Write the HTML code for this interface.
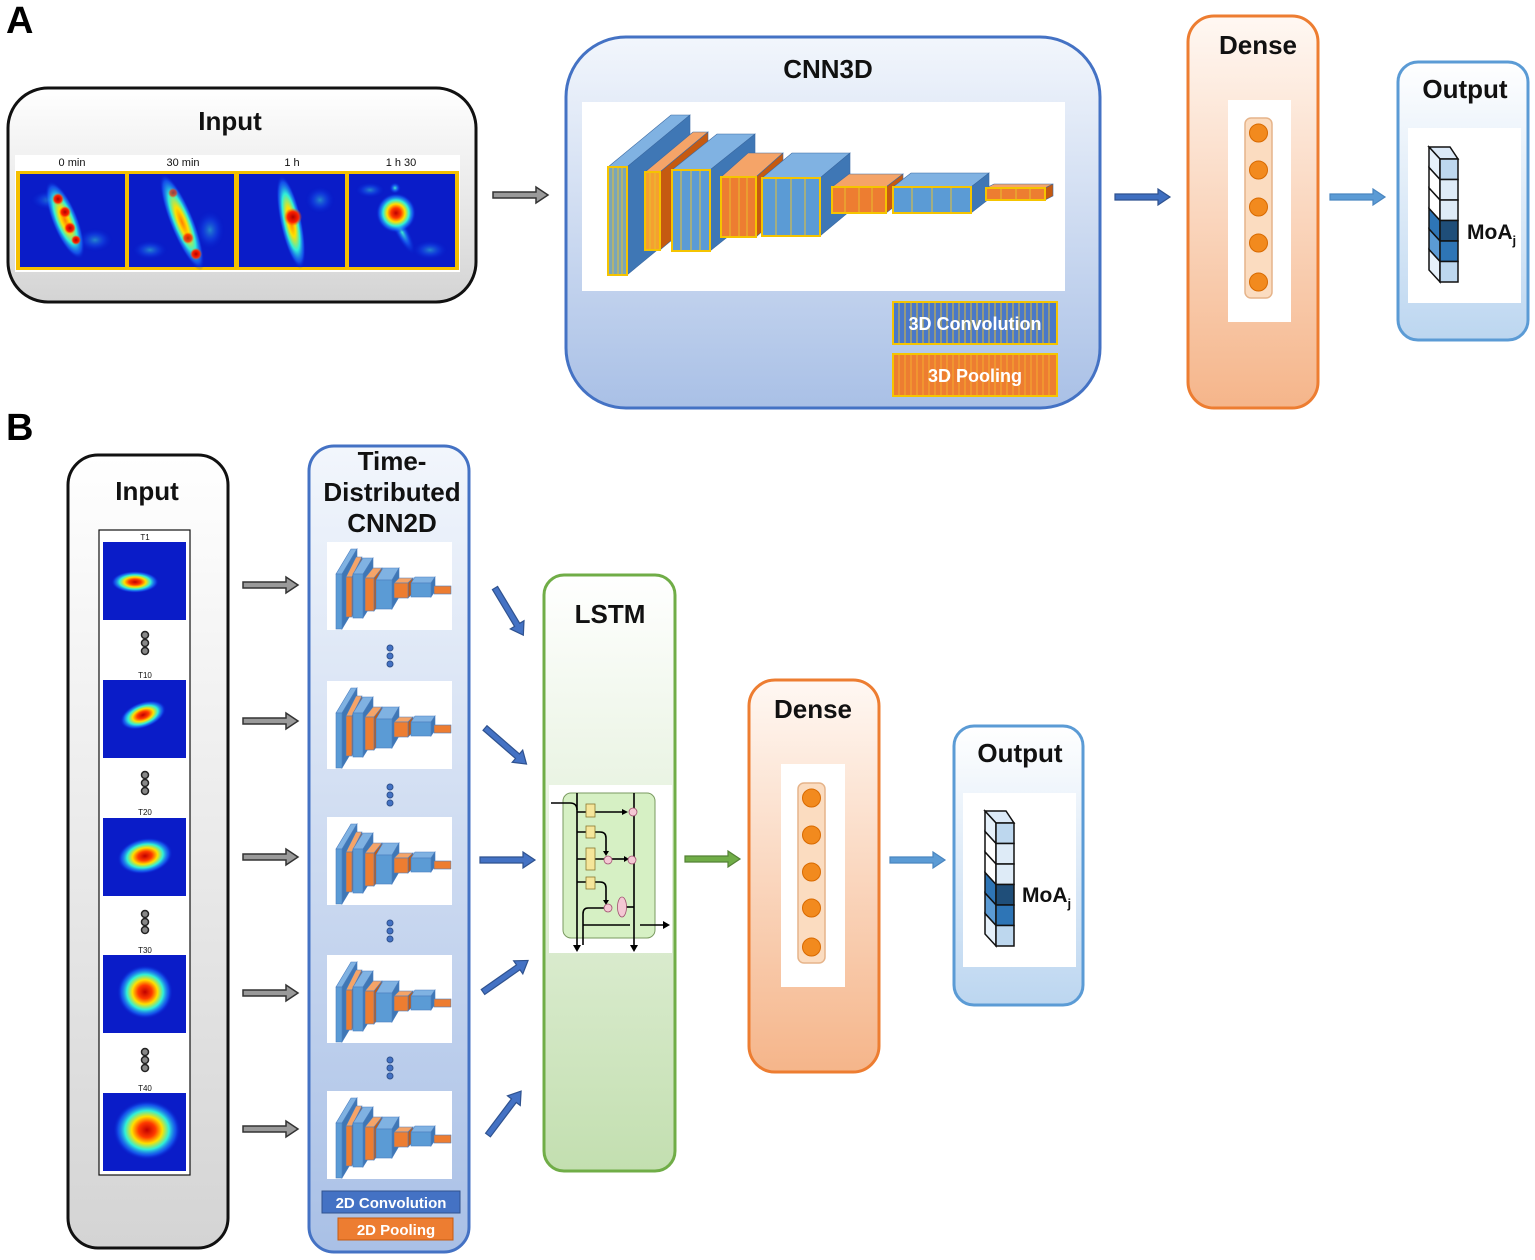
<!DOCTYPE html>
<html><head><meta charset="utf-8">
<style>
html,body{margin:0;padding:0;background:#fff;}
svg{display:block;}
text{font-family:"Liberation Sans",Arial,sans-serif;}
.t{font-weight:bold;font-size:26px;fill:#111;text-anchor:middle;}
</style></head>
<body>
<svg width="1535" height="1260" viewBox="0 0 1535 1260" xmlns="http://www.w3.org/2000/svg">
<defs>
<linearGradient id="gGray" x1="0" y1="0" x2="0" y2="1"><stop offset="0" stop-color="#ffffff"/><stop offset="1" stop-color="#d4d4d4"/></linearGradient>
<linearGradient id="gBlue" x1="0" y1="0" x2="0" y2="1"><stop offset="0" stop-color="#f2f6fc"/><stop offset="1" stop-color="#a9c0e6"/></linearGradient>
<linearGradient id="gOr" x1="0" y1="0" x2="0" y2="1"><stop offset="0" stop-color="#fff8f3"/><stop offset="1" stop-color="#f5b58a"/></linearGradient>
<linearGradient id="gLB" x1="0" y1="0" x2="0" y2="1"><stop offset="0" stop-color="#ffffff"/><stop offset="1" stop-color="#bcd6f0"/></linearGradient>
<linearGradient id="gGr" x1="0" y1="0" x2="0" y2="1"><stop offset="0" stop-color="#ffffff"/><stop offset="1" stop-color="#c3dfb0"/></linearGradient>
<radialGradient id="hm"><stop offset="0" stop-color="#c00000"/><stop offset="0.25" stop-color="#ff3a00"/><stop offset="0.45" stop-color="#ffe000"/><stop offset="0.65" stop-color="#30f0d8"/><stop offset="0.85" stop-color="#1a70ff" stop-opacity="0.6"/><stop offset="1" stop-color="#0018c8" stop-opacity="0"/></radialGradient>
<radialGradient id="hmy"><stop offset="0" stop-color="#ff8000"/><stop offset="0.3" stop-color="#ffe000"/><stop offset="0.6" stop-color="#30f0d8"/><stop offset="0.85" stop-color="#1a70ff" stop-opacity="0.6"/><stop offset="1" stop-color="#0018c8" stop-opacity="0"/></radialGradient>
<radialGradient id="hr"><stop offset="0" stop-color="#b00000"/><stop offset="0.6" stop-color="#ff2000"/><stop offset="1" stop-color="#ff6000" stop-opacity="0"/></radialGradient>
<radialGradient id="hmc"><stop offset="0" stop-color="#40f0d0"/><stop offset="0.5" stop-color="#1a70ff" stop-opacity="0.6"/><stop offset="1" stop-color="#0018c8" stop-opacity="0"/></radialGradient>
<polygon id="arr" points="0,-3 43,-3 43,-8 55,0 43,8 43,3 0,3"/>
<g id="pill">
 <rect x="0" y="0" width="27" height="180" rx="6" fill="#fbdcc0" stroke="#e6b48a" stroke-width="1.5"/>
 <g fill="#f28a1e" stroke="#d86a00" stroke-width="1">
 <circle cx="13.5" cy="15" r="9"/><circle cx="13.5" cy="52" r="9"/><circle cx="13.5" cy="89" r="9"/><circle cx="13.5" cy="125" r="9"/><circle cx="13.5" cy="164" r="9"/>
 </g>
</g>
<g id="cube" stroke="#111" stroke-width="1.5">
 <polygon points="0,0 21,0 29,12 11,12" fill="#dbe9f7"/>
 <polygon points="0,0 11,12 11,32.5 0,20.5" fill="#e6f1fb"/>
 <polygon points="0,20.5 11,32.5 11,53 0,41" fill="#fff"/>
 <polygon points="0,41 11,53 11,73.5 0,61.5" fill="#fff"/>
 <polygon points="0,61.5 11,73.5 11,94 0,82" fill="#2e75b6"/>
 <polygon points="0,82 11,94 11,114.5 0,102.5" fill="#5b9bd5"/>
 <polygon points="0,102.5 11,114.5 11,135 0,123" fill="#e6f1fb"/>
 <rect x="11" y="12" width="18" height="20.5" fill="#bdd7ee"/>
 <rect x="11" y="32.5" width="18" height="20.5" fill="#deebf7"/>
 <rect x="11" y="53" width="18" height="20.5" fill="#deebf7"/>
 <rect x="11" y="73.5" width="18" height="20.5" fill="#1f4e79"/>
 <rect x="11" y="94" width="18" height="20.5" fill="#2e75b6"/>
 <rect x="11" y="114.5" width="18" height="20.5" fill="#bdd7ee"/>
</g>
<g id="cnn2">
 <g stroke="#4a7ec0" stroke-width="0.6">
 <polygon points="9,32 24,7 30,7 15,32" fill="#80b2e2"/><polygon points="15,32 30,7 30,62 15,87" fill="#3f77b5"/><rect x="9" y="32" width="6" height="55" fill="#5b9bd5"/>
 <polygon points="19,35 29,15 35,15 25,35" fill="#f5a468"/><polygon points="25,35 35,15 35,55 25,75" fill="#c55a11"/><rect x="19" y="35" width="6" height="40" fill="#ed7d31"/>
 <polygon points="26,32 36,16 46,16 36,32" fill="#80b2e2"/><polygon points="36,32 46,16 46,60 36,76" fill="#3f77b5"/><rect x="26" y="32" width="10" height="44" fill="#5b9bd5"/>
 <polygon points="38,36 46,26 55,26 47,36" fill="#f5a468"/><polygon points="47,36 55,26 55,59 47,69" fill="#c55a11"/><rect x="38" y="36" width="9" height="33" fill="#ed7d31"/>
 <polygon points="49,38 56,26 72,26 65,38" fill="#80b2e2"/><polygon points="65,38 72,26 72,55 65,67" fill="#3f77b5"/><rect x="49" y="38" width="16" height="29" fill="#5b9bd5"/>
 <polygon points="67,41 72,36 86,36 81,41" fill="#f5a468"/><polygon points="81,41 86,36 86,51 81,56" fill="#c55a11"/><rect x="67" y="41" width="14" height="15" fill="#ed7d31"/>
 <polygon points="84,41 88,35 108,35 104,41" fill="#80b2e2"/><polygon points="104,41 108,35 108,49 104,55" fill="#3f77b5"/><rect x="84" y="41" width="20" height="14" fill="#5b9bd5"/>
 <rect x="107" y="44" width="17" height="8" fill="#ed7d31"/>
 </g>
</g>
</defs>

<text x="6" y="33" font-size="38" font-weight="bold" fill="#000">A</text>
<text x="6" y="440" font-size="38" font-weight="bold" fill="#000">B</text>

<!-- ===== A ===== -->
<rect x="8" y="88" width="468" height="214" rx="40" fill="url(#gGray)" stroke="#111" stroke-width="3"/>
<text class="t" x="230" y="130">Input</text>
<rect x="15" y="155" width="445" height="117" fill="#fff"/>
<g font-size="11" text-anchor="middle" fill="#111">
<text x="72" y="166">0 min</text><text x="183" y="166">30 min</text><text x="292" y="166">1 h</text><text x="401" y="166">1 h 30</text></g>
<rect x="16" y="171" width="443" height="99" fill="#f5c000"/>
<g>
 <rect x="20" y="174" width="105" height="93" fill="#0a1cc8"/>
 <rect x="129" y="174" width="105" height="93" fill="#0a1cc8"/>
 <rect x="239" y="174" width="106" height="93" fill="#0a1cc8"/>
 <rect x="349" y="174" width="106" height="93" fill="#0a1cc8"/>
 <g fill="url(#hmc)" opacity="0.5">
  <ellipse cx="50" cy="200" rx="20" ry="10"/><ellipse cx="95" cy="240" rx="18" ry="12"/><ellipse cx="210" cy="230" rx="15" ry="20"/><ellipse cx="150" cy="250" rx="18" ry="10"/><ellipse cx="320" cy="200" rx="15" ry="14"/><ellipse cx="430" cy="250" rx="18" ry="10"/><ellipse cx="370" cy="190" rx="15" ry="8"/>
 </g>
 <!-- tile1 -->
 <ellipse cx="65" cy="220" rx="13" ry="42" transform="rotate(-22 65 220)" fill="url(#hmy)"/>
 <circle cx="58" cy="199" r="6" fill="url(#hr)"/><circle cx="65" cy="212" r="6" fill="url(#hr)"/><circle cx="70" cy="228" r="6" fill="url(#hr)"/><circle cx="76" cy="240" r="5" fill="url(#hr)"/>
 <!-- tile2 -->
 <ellipse cx="182" cy="222" rx="12" ry="52" transform="rotate(-22 182 222)" fill="url(#hmy)"/>
 <circle cx="173" cy="193" r="5" fill="url(#hr)" opacity="0.7"/><circle cx="188" cy="238" r="6" fill="url(#hr)" opacity="0.8"/><circle cx="196" cy="254" r="6" fill="url(#hr)"/>
 <!-- tile3 -->
 <ellipse cx="291" cy="222" rx="11" ry="48" transform="rotate(-12 291 222)" fill="url(#hmy)"/>
 <circle cx="293" cy="217" r="9" fill="url(#hr)"/>
 <!-- tile4 -->
 <ellipse cx="402" cy="232" rx="7" ry="26" transform="rotate(-28 402 232)" fill="url(#hmc)"/>
 <circle cx="395" cy="188" r="6" fill="url(#hmc)"/>
 <circle cx="396" cy="213" r="20" fill="url(#hm)"/>
</g>
<use href="#arr" transform="translate(493,195)" fill="#9a9a9a" stroke="#333" stroke-width="1.5"/>

<rect x="566" y="37" width="534" height="371" rx="60" fill="url(#gBlue)" stroke="#4472c4" stroke-width="3"/>
<text class="t" x="828" y="78">CNN3D</text>
<rect x="582" y="102" width="483" height="189" fill="#fff"/>
<g stroke="#3b6aa3" stroke-width="0.6">
 <polygon points="608,167 671,115 690,115 627,167" fill="#80b2e2"/><polygon points="627,167 690,115 690,223 627,275" fill="#3f77b5"/>
 <rect x="608" y="167" width="19" height="108" fill="#7aa6b8" stroke="#f5c400" stroke-width="2"/>
 <polygon points="645,172 693,132 708,132 660,172" fill="#f5a468"/><polygon points="660,172 708,132 708,210 660,250" fill="#c55a11"/>
 <rect x="645" y="172" width="15" height="78" fill="#f5a030" stroke="#f5c400" stroke-width="2"/>
 <polygon points="672,170 717,134 755,134 710,170" fill="#80b2e2"/><polygon points="710,170 755,134 755,215 710,251" fill="#3f77b5"/>
 <rect x="672" y="170" width="38" height="81" fill="#5b9bd5" stroke="#f5c400" stroke-width="2"/>
 <polygon points="721,177 748,153 783,153 756,177" fill="#f5a468"/><polygon points="756,177 783,153 783,213 756,237" fill="#c55a11"/>
 <rect x="721" y="177" width="35" height="60" fill="#ed7d31" stroke="#f5c400" stroke-width="2"/>
 <polygon points="762,178 792,153 850,153 820,178" fill="#80b2e2"/><polygon points="820,178 850,153 850,211 820,236" fill="#3f77b5"/>
 <rect x="762" y="178" width="58" height="58" fill="#5b9bd5" stroke="#f5c400" stroke-width="2"/>
 <polygon points="832,187 849,174 903,174 886,187" fill="#f5a468"/><polygon points="886,187 903,174 903,200 886,213" fill="#c55a11"/>
 <rect x="832" y="187" width="54" height="26" fill="#ed7d31" stroke="#f5c400" stroke-width="2"/>
 <polygon points="893,187 911,173 989,173 971,187" fill="#80b2e2"/><polygon points="971,187 989,173 989,199 971,213" fill="#3f77b5"/>
 <rect x="893" y="187" width="78" height="26" fill="#5b9bd5" stroke="#f5c400" stroke-width="2"/>
 <polygon points="986,188 994,184 1053,184 1045,188" fill="#f5a468"/><polygon points="1045,188 1053,184 1053,196 1045,200" fill="#c55a11"/>
 <rect x="986" y="188" width="59" height="12" fill="#ed7d31" stroke="#f5c400" stroke-width="2"/>
</g>
<g stroke="#e8c030" stroke-width="1">
 <line x1="613" y1="168" x2="613" y2="274"/><line x1="618" y1="168" x2="618" y2="274"/><line x1="622" y1="168" x2="622" y2="274"/>
 <line x1="650" y1="173" x2="650" y2="249"/><line x1="655" y1="173" x2="655" y2="249"/>
 <line x1="681" y1="171" x2="681" y2="250"/><line x1="691" y1="171" x2="691" y2="250"/><line x1="700" y1="171" x2="700" y2="250"/>
 <line x1="730" y1="178" x2="730" y2="236"/><line x1="739" y1="178" x2="739" y2="236"/><line x1="747" y1="178" x2="747" y2="236"/>
 <line x1="776" y1="179" x2="776" y2="235"/><line x1="791" y1="179" x2="791" y2="235"/><line x1="805" y1="179" x2="805" y2="235"/>
 <line x1="845" y1="188" x2="845" y2="212"/><line x1="859" y1="188" x2="859" y2="212"/><line x1="872" y1="188" x2="872" y2="212"/>
 <line x1="912" y1="188" x2="912" y2="212"/><line x1="932" y1="188" x2="932" y2="212"/><line x1="951" y1="188" x2="951" y2="212"/>
 <line x1="1001" y1="189" x2="1001" y2="199"/><line x1="1016" y1="189" x2="1016" y2="199"/><line x1="1030" y1="189" x2="1030" y2="199"/>
</g>
<rect x="893" y="302" width="164" height="42" fill="#4a78c8" stroke="#f5c400" stroke-width="2"/>
<rect x="893" y="354" width="164" height="42" fill="#ed7d31" stroke="#f5c400" stroke-width="2"/>
<g stroke-width="1.2">
<path d="M899 303V343M905 303V343M911 303V343M917 303V343M923 303V343M929 303V343M935 303V343M941 303V343M947 303V343M953 303V343M959 303V343M965 303V343M971 303V343M977 303V343M983 303V343M989 303V343M995 303V343M1001 303V343M1007 303V343M1013 303V343M1019 303V343M1025 303V343M1031 303V343M1037 303V343M1043 303V343M1049 303V343" stroke="#e8c030" opacity="0.8"/>
<path d="M899 355V395M905 355V395M911 355V395M917 355V395M923 355V395M929 355V395M935 355V395M941 355V395M947 355V395M953 355V395M959 355V395M965 355V395M971 355V395M977 355V395M983 355V395M989 355V395M995 355V395M1001 355V395M1007 355V395M1013 355V395M1019 355V395M1025 355V395M1031 355V395M1037 355V395M1043 355V395M1049 355V395" stroke="#f5b030" opacity="0.8"/>
</g>
<text x="975" y="330" font-size="18" font-weight="bold" fill="#fff" text-anchor="middle">3D Convolution</text>
<text x="975" y="382" font-size="18" font-weight="bold" fill="#fff" text-anchor="middle">3D Pooling</text>

<use href="#arr" transform="translate(1115,197)" fill="#3f6fc0" stroke="#2f528f" stroke-width="1.2"/>

<rect x="1188" y="16" width="130" height="392" rx="26" fill="url(#gOr)" stroke="#ed7d31" stroke-width="3"/>
<text class="t" x="1258" y="54">Dense</text>
<rect x="1228" y="100" width="63" height="222" fill="#fff"/>
<use href="#pill" transform="translate(1245,118)"/>

<use href="#arr" transform="translate(1330,197)" fill="#5b9bd5" stroke="#4a86c0" stroke-width="1.2"/>

<rect x="1398" y="62" width="130" height="278" rx="20" fill="url(#gLB)" stroke="#5b9bd5" stroke-width="3"/>
<text class="t" x="1465" y="98">Output</text>
<rect x="1408" y="128" width="113" height="175" fill="#fff"/>
<use href="#cube" transform="translate(1429,147)"/>
<text x="1467" y="239" font-size="21" font-weight="bold" fill="#111">MoA<tspan font-size="13" dy="6">j</tspan></text>

<!-- ===== B ===== -->
<rect x="68" y="455" width="160" height="793" rx="30" fill="url(#gGray)" stroke="#111" stroke-width="3"/>
<text class="t" x="147" y="500">Input</text>
<rect x="99" y="530" width="91" height="645" fill="#fff" stroke="#111" stroke-width="1.2"/>
<g font-size="8" fill="#111" text-anchor="middle">
<text x="145" y="540">T1</text><text x="145" y="678">T10</text><text x="145" y="815">T20</text><text x="145" y="953">T30</text><text x="145" y="1091">T40</text></g>
<g fill="#0a1cc8">
<rect x="103" y="542" width="83" height="78"/><rect x="103" y="680" width="83" height="78"/><rect x="103" y="818" width="83" height="78"/><rect x="103" y="955" width="83" height="78"/><rect x="103" y="1093" width="83" height="78"/></g>
<ellipse cx="135" cy="582" rx="24" ry="11" fill="url(#hm)"/>
<ellipse cx="137" cy="718" rx="14" ry="9" fill="url(#hmy)"/>
<ellipse cx="143" cy="715" rx="24" ry="13" transform="rotate(-20 143 715)" fill="url(#hm)"/>
<ellipse cx="145" cy="856" rx="28" ry="18" transform="rotate(-10 145 856)" fill="url(#hm)"/>
<ellipse cx="145" cy="992" rx="28" ry="27" fill="url(#hm)"/>
<ellipse cx="147" cy="1130" rx="34" ry="30" fill="url(#hm)"/>
<g fill="#888" stroke="#222" stroke-width="1.5">
<circle cx="145" cy="635" r="3.5"/><circle cx="145" cy="643" r="3.5"/><circle cx="145" cy="651" r="3.5"/>
<circle cx="145" cy="775" r="3.5"/><circle cx="145" cy="783" r="3.5"/><circle cx="145" cy="791" r="3.5"/>
<circle cx="145" cy="914" r="3.5"/><circle cx="145" cy="922" r="3.5"/><circle cx="145" cy="930" r="3.5"/>
<circle cx="145" cy="1052" r="3.5"/><circle cx="145" cy="1060" r="3.5"/><circle cx="145" cy="1068" r="3.5"/>
</g>
<g fill="#9a9a9a" stroke="#333" stroke-width="1.5">
<use href="#arr" transform="translate(243,585)"/><use href="#arr" transform="translate(243,721)"/><use href="#arr" transform="translate(243,857)"/><use href="#arr" transform="translate(243,993)"/><use href="#arr" transform="translate(243,1129)"/>
</g>

<rect x="309" y="446" width="160" height="806" rx="25" fill="url(#gBlue)" stroke="#4472c4" stroke-width="3"/>
<text class="t" x="392" y="470" font-size="24">Time-</text>
<text class="t" x="392" y="501" font-size="24">Distributed</text>
<text class="t" x="392" y="532" font-size="24">CNN2D</text>
<g fill="#fff">
<rect x="327" y="542" width="125" height="88"/><rect x="327" y="681" width="125" height="88"/><rect x="327" y="817" width="125" height="88"/><rect x="327" y="955" width="125" height="88"/><rect x="327" y="1091" width="125" height="88"/></g>
<use href="#cnn2" transform="translate(327,542)"/><use href="#cnn2" transform="translate(327,681)"/><use href="#cnn2" transform="translate(327,817)"/><use href="#cnn2" transform="translate(327,955)"/><use href="#cnn2" transform="translate(327,1091)"/>
<g fill="#4472c4" stroke="#2f528f" stroke-width="1">
<circle cx="390" cy="648" r="3"/><circle cx="390" cy="656" r="3"/><circle cx="390" cy="664" r="3"/>
<circle cx="390" cy="787" r="3"/><circle cx="390" cy="795" r="3"/><circle cx="390" cy="803" r="3"/>
<circle cx="390" cy="923" r="3"/><circle cx="390" cy="931" r="3"/><circle cx="390" cy="939" r="3"/>
<circle cx="390" cy="1060" r="3"/><circle cx="390" cy="1068" r="3"/><circle cx="390" cy="1076" r="3"/>
</g>
<rect x="322" y="1191" width="138" height="22" fill="#4472c4" stroke="#2f528f" stroke-width="1"/>
<rect x="338" y="1218" width="115" height="22" fill="#ed7d31" stroke="#c55a11" stroke-width="1"/>
<text x="391" y="1208" font-size="15" font-weight="bold" fill="#fff" text-anchor="middle">2D Convolution</text>
<text x="396" y="1235" font-size="15" font-weight="bold" fill="#fff" text-anchor="middle">2D Pooling</text>

<g fill="#4472c4" stroke="#2f528f" stroke-width="1.2">
<use href="#arr" transform="translate(495,588) rotate(59)"/>
<use href="#arr" transform="translate(485,728) rotate(41)"/>
<use href="#arr" transform="translate(480,860)"/>
<use href="#arr" transform="translate(483,992) rotate(-35)"/>
<use href="#arr" transform="translate(488,1135) rotate(-53)"/>
</g>

<rect x="544" y="575" width="131" height="596" rx="20" fill="url(#gGr)" stroke="#70ad47" stroke-width="3"/>
<text class="t" x="610" y="623">LSTM</text>
<rect x="549" y="785" width="123" height="168" fill="#fff"/>
<rect x="563" y="793" width="92" height="145" rx="8" fill="#d6f0c4" stroke="#7a9a60" stroke-width="1"/>
<g stroke="#000" stroke-width="1.6" fill="none">
 <path d="M551 803 H570 Q577 803 577 810"/>
 <line x1="577" y1="793" x2="577" y2="945"/>
 <line x1="634" y1="793" x2="634" y2="945"/>
 <path d="M577 812 H625"/>
 <path d="M577 832 H600 Q606 832 606 838 V853"/>
 <path d="M577 859 H604"/><path d="M612 859 H626"/>
 <path d="M577 882 H600 Q606 882 606 888 V902"/>
 <path d="M604 908 H588 Q583 908 583 914 V945"/>
 <line x1="583" y1="925" x2="630" y2="925"/>
 <line x1="640" y1="925" x2="664" y2="925"/>
 <line x1="626" y1="907" x2="634" y2="907"/>
</g>
<g fill="#000">
 <polygon points="573,945 581,945 577,952"/><polygon points="630,945 638,945 634,952"/>
 <polygon points="663,921 670,925 663,929"/>
 <polygon points="622,809 628,812 622,815"/><polygon points="603,851 609,851 606,856"/>
 <polygon points="624,856 629,859 624,862"/><polygon points="603,900 609,900 606,905"/>
</g>
<g fill="#f5e69a" stroke="#8a7a30" stroke-width="0.8">
 <rect x="586" y="804" width="9" height="13"/><rect x="586" y="826" width="9" height="12"/><rect x="586" y="848" width="9" height="22"/><rect x="586" y="877" width="9" height="12"/>
</g>
<g fill="#f4c8d4" stroke="#a05070" stroke-width="0.8">
 <circle cx="633" cy="812" r="4"/><circle cx="608" cy="860" r="4"/><circle cx="632" cy="860" r="4"/><circle cx="608" cy="908" r="4"/><ellipse cx="622" cy="907" rx="4.5" ry="10"/>
</g>

<use href="#arr" transform="translate(685,859)" fill="#70ad47" stroke="#548235" stroke-width="1.2"/>

<rect x="749" y="680" width="130" height="392" rx="26" fill="url(#gOr)" stroke="#ed7d31" stroke-width="3"/>
<text class="t" x="813" y="718">Dense</text>
<rect x="781" y="764" width="64" height="223" fill="#fff"/>
<use href="#pill" transform="translate(798,783)"/>

<use href="#arr" transform="translate(890,860)" fill="#5b9bd5" stroke="#4a86c0" stroke-width="1.2"/>

<rect x="954" y="726" width="129" height="279" rx="20" fill="url(#gLB)" stroke="#5b9bd5" stroke-width="3"/>
<text class="t" x="1020" y="762">Output</text>
<rect x="963" y="793" width="113" height="174" fill="#fff"/>
<use href="#cube" transform="translate(985,811)"/>
<text x="1022" y="902" font-size="21" font-weight="bold" fill="#111">MoA<tspan font-size="13" dy="6">j</tspan></text>
</svg>
</body></html>
